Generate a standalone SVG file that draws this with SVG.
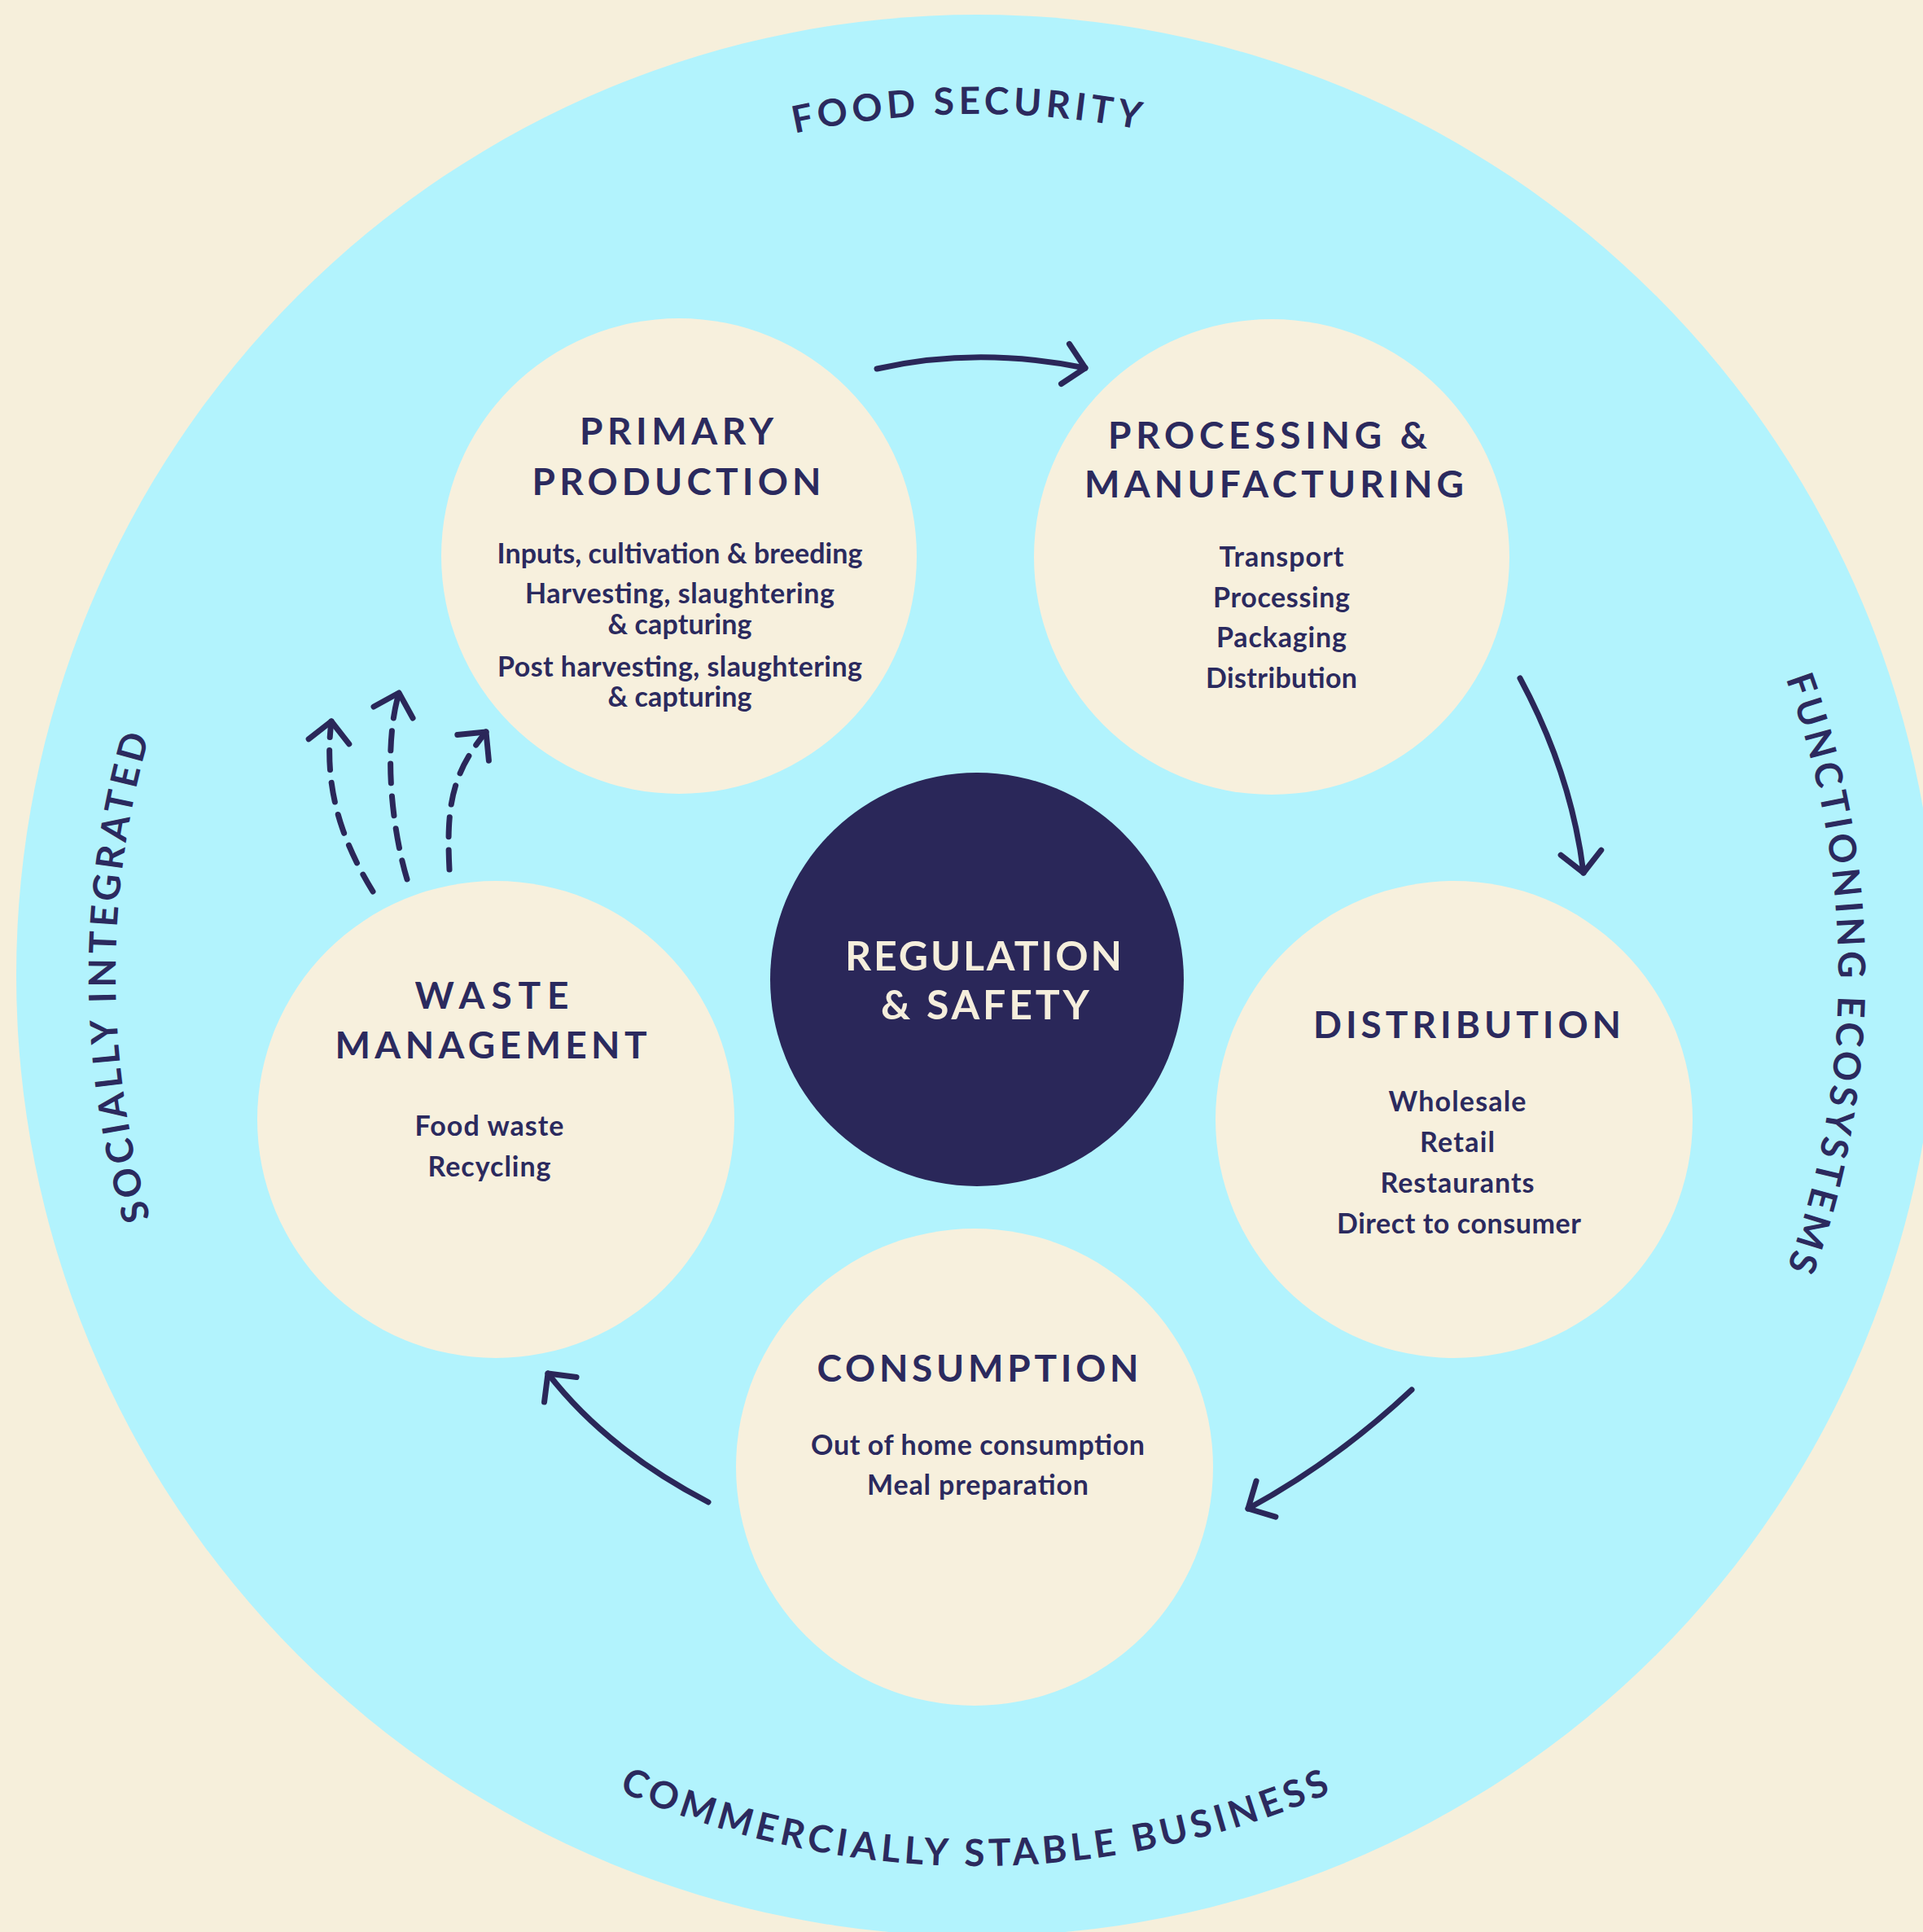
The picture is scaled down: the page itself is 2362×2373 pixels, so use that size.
<svg xmlns="http://www.w3.org/2000/svg" width="2362" height="2373" viewBox="0 0 2362 2373">
<style>
.bg{fill:#F6EFDB}
.ring{fill:#B2F3FD}
.node{fill:#F7F0DD}
.core{fill:#2A2759}
.title{font-family:Lato,'Noto Sans',sans-serif;font-weight:700;font-size:46px;fill:#2B2A5E;text-anchor:middle}
.sub{font-family:Lato,'Noto Sans',sans-serif;font-weight:700;font-size:34px;fill:#2B2A5E;text-anchor:middle}
.coret{font-family:Lato,'Noto Sans',sans-serif;font-weight:700;font-size:50px;fill:#F5EEDC;text-anchor:middle}
.outer{font-family:Lato,'Noto Sans',sans-serif;font-weight:700;font-size:46px;fill:#2B2A5E;letter-spacing:5.3px}
.conn{fill:none;stroke:#2A2759;stroke-width:7;stroke-linecap:round}
.dash{stroke-dasharray:24 16}
</style>
<defs>
<marker id="chev" markerUnits="userSpaceOnUse" markerWidth="80" markerHeight="80" viewBox="-40 -40 80 80" refX="0" refY="0" orient="auto" overflow="visible">
<path d="M-25,-25 L0,0 L-25,25" fill="none" stroke="#2A2759" stroke-width="7" stroke-linecap="round" stroke-linejoin="round"/>
</marker>
<path id="arcTop" d="M142,1198 A1058,1058 0 0 1 2258,1198"/>
<path id="arcRight" d="M1200,140 A1058,1058 0 0 1 1200,2256"/>
<path id="arcLeft" d="M1200,2256 A1058,1058 0 0 1 1200,140"/>
<path id="arcBottom" d="M106,1198 A1094,1094 0 0 0 2294,1198"/>
</defs>

<rect class="bg" x="0" y="0" width="2362" height="2373"/>
<circle class="ring" cx="1200" cy="1198" r="1180"/>

<g id="outer-labels">
<text class="outer"><textPath href="#arcTop" startOffset="49.7%" text-anchor="middle">FOOD SECURITY</textPath></text>
<text class="outer"><textPath href="#arcRight" startOffset="50%" text-anchor="middle">FUNCTIONING ECOSYSTEMS</textPath></text>
<text class="outer"><textPath href="#arcLeft" startOffset="50%" text-anchor="middle">SOCIALLY INTEGRATED</textPath></text>
<text class="outer"><textPath href="#arcBottom" startOffset="50%" text-anchor="middle">COMMERCIALLY STABLE BUSINESS</textPath></text>
</g>

<g id="node-primary">
<circle class="node" cx="834" cy="683" r="292"/>
<text class="title" x="831" y="546" textLength="238">PRIMARY</text>
<text class="title" x="831" y="608" textLength="355">PRODUCTION</text>
<text class="sub" x="835" y="692" textLength="449">Inputs, cultivation &amp; breeding</text>
<text class="sub" x="835" y="741" textLength="380">Harvesting, slaughtering</text>
<text class="sub" x="835" y="779" textLength="177">&amp; capturing</text>
<text class="sub" x="835" y="831" textLength="448">Post harvesting, slaughtering</text>
<text class="sub" x="835" y="868" textLength="177">&amp; capturing</text>
</g>

<g id="node-processing">
<circle class="node" cx="1562" cy="684" r="292"/>
<text class="title" x="1557" y="551" textLength="392">PROCESSING &amp;</text>
<text class="title" x="1565" y="611" textLength="466">MANUFACTURING</text>
<text class="sub" x="1574" y="696" textLength="153">Transport</text>
<text class="sub" x="1574" y="746" textLength="168">Processing</text>
<text class="sub" x="1574" y="795" textLength="160">Packaging</text>
<text class="sub" x="1574" y="845" textLength="186">Distribution</text>
</g>

<g id="node-distribution">
<circle class="node" cx="1786" cy="1375" r="293"/>
<text class="title" x="1802" y="1275" textLength="378">DISTRIBUTION</text>
<text class="sub" x="1790" y="1365" textLength="169">Wholesale</text>
<text class="sub" x="1790" y="1415" textLength="92">Retail</text>
<text class="sub" x="1790" y="1465" textLength="189">Restaurants</text>
<text class="sub" x="1792" y="1515" textLength="300">Direct to consumer</text>
</g>

<g id="node-consumption">
<circle class="node" cx="1197" cy="1802" r="293"/>
<text class="title" x="1201" y="1697" textLength="395">CONSUMPTION</text>
<text class="sub" x="1201" y="1787" textLength="410">Out of home consumption</text>
<text class="sub" x="1201" y="1836" textLength="272">Meal preparation</text>
</g>

<g id="node-waste">
<circle class="node" cx="609" cy="1375" r="293"/>
<text class="title" x="604" y="1239" textLength="189">WASTE</text>
<text class="title" x="603" y="1300" textLength="383">MANAGEMENT</text>
<text class="sub" x="601" y="1395" textLength="183">Food waste</text>
<text class="sub" x="601" y="1445" textLength="151">Recycling</text>
</g>

<g id="node-regulation">
<circle class="core" cx="1200" cy="1203" r="254"/>
<text class="coret" x="1208" y="1192" textLength="340">REGULATION</text>
<text class="coret" x="1210" y="1252" textLength="256">&amp; SAFETY</text>
</g>

<g id="connectors">
<path class="conn" d="M1077,453 Q1200,425 1333,452" marker-end="url(#chev)"/>
<path class="conn" d="M1867,833 Q1930,950 1945,1072" marker-end="url(#chev)"/>
<path class="conn" d="M1734,1707 Q1640,1795 1533,1853" marker-end="url(#chev)"/>
<path class="conn" d="M870,1845 Q745,1780 673,1687" marker-end="url(#chev)"/>
<path class="conn dash" d="M458,1095 C415,1025 398,960 407,886" marker-end="url(#chev)"/>
<path class="conn dash" d="M500,1080 C482,1020 470,920 490,851" marker-end="url(#chev)"/>
<path class="conn dash" d="M552,1068 C548,990 555,950 597,899" marker-end="url(#chev)"/>
</g>
</svg>
